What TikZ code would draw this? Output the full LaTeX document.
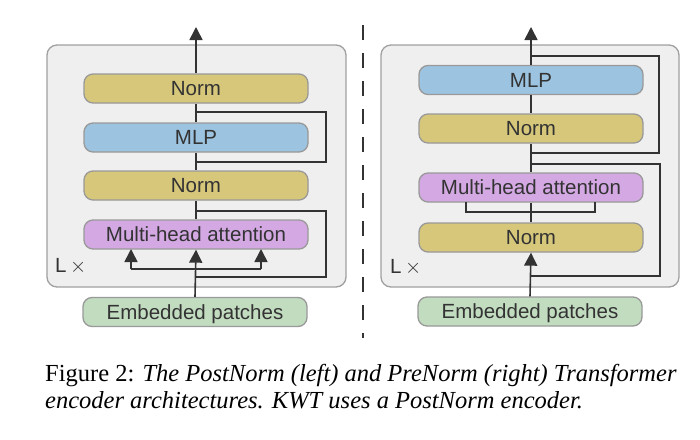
\documentclass[tikz,border=0pt]{standalone}
\usepackage{fontspec}
\setmainfont{Liberation Serif}
\setsansfont{Liberation Sans}
\usetikzlibrary{arrows.meta}
\definecolor{normc}{HTML}{D6C77B}
\definecolor{mlpc}{HTML}{9CC3DF}
\definecolor{mhac}{HTML}{D3A8E3}
\definecolor{embc}{HTML}{C2DCC0}
\definecolor{boxb}{HTML}{999999}
\definecolor{contf}{HTML}{EFEFEF}
\definecolor{contb}{HTML}{A0A0A0}
\definecolor{wirec}{HTML}{333333}
\definecolor{txtc}{HTML}{333333}
\begin{document}
\begin{tikzpicture}[x=1pt,y=-1pt,
  blk/.style={draw=boxb, line width=1.3pt, rounded corners=9pt, minimum width=224pt, minimum height=29pt, inner sep=0pt, font=\sffamily\fontsize{20.5}{24}\selectfont, text=txtc, text height=14.6pt, text depth=0pt},
  normb/.style={blk, fill=normc},
  mlpb/.style={blk, fill=mlpc},
  mhab/.style={blk, fill=mhac},
  embb/.style={blk, fill=embc},
  cont/.style={draw=contb, fill=contf, line width=1.3pt, rounded corners=10pt, inner sep=0pt},
  wire/.style={draw=wirec, line width=1.6pt},
  arr/.style={wire, -{Triangle[width=13pt,length=13pt]}},
  lbl/.style={font=\sffamily\fontsize{20.5}{24}\selectfont, text=txtc, inner sep=0pt, anchor=base west}
]
\useasboundingbox (0,0) rectangle (700,439);
\fill[white] (0,0) rectangle (700,439);

% ---------- left: PostNorm ----------
\node[cont, minimum width=299pt, minimum height=242pt] (lcont) at (196.5,166) {};
\node[normb] (ln2) at (196,88.5) {Norm};
\node[mlpb] (lmlp) at (196,137.5) {MLP};
\node[normb] (ln1) at (196,185.5) {Norm};
\node[mhab] (lmha) at (196,234.5) {Multi-head attention};
\node[embb] (lemb) at (195,312) {Embedded patches};
\node[lbl] (lL) at (55,272) {L\,$\times$};

\coordinate (ltop) at (196,27);
\draw[arr] (ln2.north) -- (ltop);
\draw[wire] (lmlp.north) -- (ln2.south);
\draw[wire] (ln1.north) -- (lmlp.south);
\draw[wire] (lmha.north) -- (ln1.south);
\draw[arr] (lemb.north) -- (lmha.south);
% residual around MLP
\coordinate (lr1a) at (196,112);
\coordinate (lr1b) at (326,162);
\coordinate (lr1c) at (196,162);
\draw[wire] (lr1a) -| (lr1b) -- (lr1c);
% residual around attention
\coordinate (lr2a) at (196,211);
\coordinate (lr2b) at (326,277);
\coordinate (lr2c) at (196,277);
\draw[wire] (lr2a) -| (lr2b) -- (lr2c);
% q,k,v fan-out
\coordinate (lqa) at (131,269);
\coordinate (lqb) at (261,269);
\coordinate (lqat) at (131,249);
\coordinate (lqbt) at (261,249);
\draw[wire] (lqa) -- (lqb);
\draw[arr] (lqa) -- (lqat);
\draw[arr] (lqb) -- (lqbt);

% ---------- divider ----------
\coordinate (dtop) at (363,25);
\coordinate (dbot) at (363,338);
\draw[wire, dash pattern=on 15pt off 13pt] (dtop) -- (dbot);

% ---------- right: PreNorm ----------
\node[cont, minimum width=298pt, minimum height=242pt] (rcont) at (530,166) {};
\node[mlpb] (rmlp) at (531,80) {MLP};
\node[normb] (rn2) at (531,128.5) {Norm};
\node[mhab] (rmha) at (531,187.5) {Multi-head attention};
\node[normb] (rn1) at (531,237.5) {Norm};
\node[embb] (remb) at (530,311.5) {Embedded patches};
\node[lbl] (rL) at (390,273) {L\,$\times$};

\coordinate (rtop) at (531,27);
\draw[arr] (rmlp.north) -- (rtop);
\draw[wire] (rn2.north) -- (rmlp.south);
\draw[wire] (rmha.north) -- (rn2.south);
\draw[wire] (rn1.north) -- (rmha.south);
\draw[arr] (remb.north) -- (rn1.south);
% residual around Norm+MLP
\coordinate (rr1a) at (531,56);
\coordinate (rr1b) at (659,153);
\coordinate (rr1c) at (531,153);
\draw[wire] (rr1a) -| (rr1b) -- (rr1c);
% residual around Norm+attention
\coordinate (rr2a) at (531,164);
\coordinate (rr2b) at (660,276);
\coordinate (rr2c) at (531,276);
\draw[wire] (rr2a) -| (rr2b) -- (rr2c);
% bracket under attention
\coordinate (rba) at (466,202);
\coordinate (rbb) at (466,212);
\coordinate (rbc) at (595,212);
\coordinate (rbd) at (595,202);
\draw[wire] (rba) -- (rbb) -- (rbc) -- (rbd);

% ---------- caption ----------
\node[anchor=base west, inner sep=0pt, align=left, font=\fontsize{24.5}{27}\selectfont] (cap) at (45,408)
  {Figure 2: \textit{The PostNorm (left) and PreNorm (right) Transformer}\\
   \textit{encoder architectures. KWT uses a PostNorm encoder.}};
\end{tikzpicture}
\end{document}
